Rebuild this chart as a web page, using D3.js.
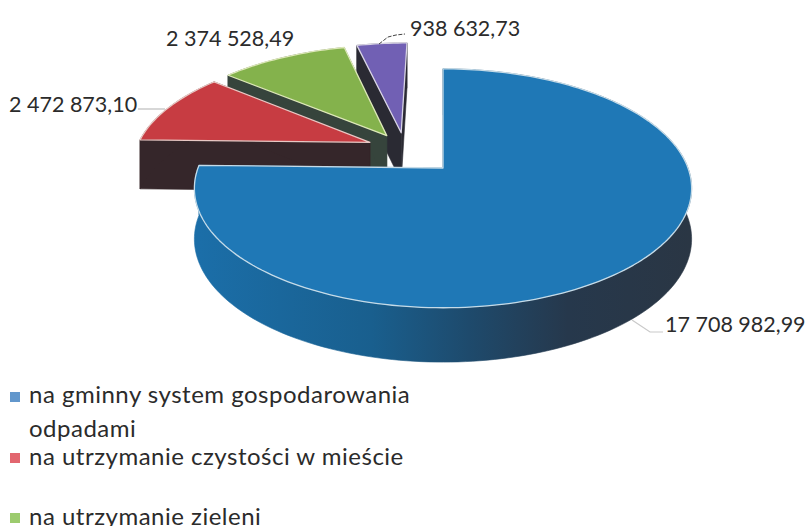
<!DOCTYPE html>
<html><head><meta charset="utf-8">
<style>html,body{margin:0;padding:0;background:#fff;overflow:hidden}svg{display:block}text{font-family:Lato,"Open Sans",sans-serif;fill:#2b2b2b}</style>
<script src="https://cdn.jsdelivr.net/npm/d3@7"></script></head><body>
<svg id="c" width="808" height="526"></svg>
<script>
const sliceNames = ["gmina","czystosc","zielen","inne"];
const sliceValues = [17708982.99, 2472873.10, 2374528.49, 938632.73];
const legendLines = [["na gminny system gospodarowania","odpadami"],["na utrzymanie czystości w mieście"],["na utrzymanie zieleni"]];

const topColors = ["#1f78b6","#c73c42","#84b24c","#7160b4"];
const sideColors = ["url(#blueWall)","#35262a","#36443c","#2a2a33"];
const edgeColors = ["#c5dbe8","#e8c8c4","#dde8b8","#d8d4e4"];
const legendColors = ["#6297cc","#e2666f","#9ccb6e"];
const offsets = [[0,0],[-0.31,-0.23],[-0.241,-0.293],[-0.18,-0.32]];
const radii = [1,0.98,1,1];
const labelPos = [[665,332],[9,112],[166,46],[410,36]];
const cx=443, cy=168, rx=245, persp=0.17, ay=116;

const svg=d3.select("#c");
const grad=svg.append("defs").append("linearGradient").attr("id","blueWall")
  .attr("gradientUnits","userSpaceOnUse").attr("x1",200).attr("x2",690).attr("y1",0).attr("y2",0);
[[0,"#1b6ea8"],[0.35,"#195f8e"],[0.55,"#1e4a6c"],[0.75,"#26384c"],[1,"#2a3644"]].forEach(([o,c])=>grad.append("stop").attr("offset",o).attr("stop-color",c));

const pie=d3.pie().sort(null).value(d=>d).startAngle(0).endAngle(2*Math.PI);
const arcs=pie(sliceValues);
const project=(u,v)=>{const d=1-persp*v;return [cx+rx*u/d, cy+ay*v/d];};
const depthAt=v=>50/(1-0.08*v);
const line=d3.line();

function outline(a,off,r){
  const n=Math.max(4,Math.ceil((a.endAngle-a.startAngle)*40));
  const pts=[off.slice()];
  d3.range(n+1).forEach(i=>{const t=a.startAngle+(a.endAngle-a.startAngle)*i/n;pts.push([off[0]+r*Math.sin(t),off[1]-r*Math.cos(t)]);});
  return pts;
}
const order=[3,2,1,0];
order.forEach(i=>{
  const g=svg.append("g").attr("class","slice-"+sliceNames[i]);
  const disk=outline(arcs[i],offsets[i],radii[i]);
  const top=disk.map(p=>project(p[0],p[1]));
  const low=disk.map((p,k)=>[top[k][0],top[k][1]+depthAt(p[1])]);
  const last=disk.length-1;
  const faces=[
    [top[0],top[1],low[1],low[0]],
    [top[last],top[0],low[0],low[last]],
    top.slice(1).concat(low.slice(1).reverse())
  ];
  g.selectAll("path.wall").data(faces).join("path").attr("class","wall")
    .attr("d",q=>line(q)+"Z").attr("fill",sideColors[i]).attr("stroke",sideColors[i]).attr("stroke-width",0.6);
  g.append("path").attr("d",line(top)+"Z").attr("fill",topColors[i])
    .attr("stroke",edgeColors[i]).attr("stroke-width",1.3).attr("stroke-linejoin","round");
});

// leader lines
const leaders=[[[632,320],[650,332],[663,332]],[[138,109],[165,109]],[[379,44],[388,37],[396,35],[405,34]]];
const leaderStyle=[["#c9c9c9",1.2,null],["#bdbdbd",1.2,null],["#444",1,"4 1.5"]];
leaders.forEach((l,i)=>svg.append("path").attr("d",line(l)).attr("fill","none")
  .attr("stroke",leaderStyle[i][0]).attr("stroke-width",leaderStyle[i][1]).attr("stroke-dasharray",leaderStyle[i][2]));

// value labels
const fmt=d3.formatLocale({decimal:",",thousands:" ",grouping:[3],currency:["",""]}).format(",.2f");
svg.selectAll("text.val").data(sliceValues).join("text").attr("class","val")
  .attr("x",(d,i)=>labelPos[i][0]).attr("y",(d,i)=>labelPos[i][1])
  .attr("font-size",21.5).text(d=>fmt(d));

// legend
const legendRowY=[403,465,525];
const legendSwatchY=[392,453,513];
const legendLineH=34;
legendLines.forEach((lines,i)=>{
  svg.append("rect").attr("x",10).attr("y",legendSwatchY[i]).attr("width",10).attr("height",10).attr("fill",legendColors[i]);
  lines.forEach((t,k)=>svg.append("text").attr("x",29).attr("y",legendRowY[i]+k*legendLineH)
    .attr("font-size",24).attr("letter-spacing",0.5).text(t));
});
</script></body></html>
